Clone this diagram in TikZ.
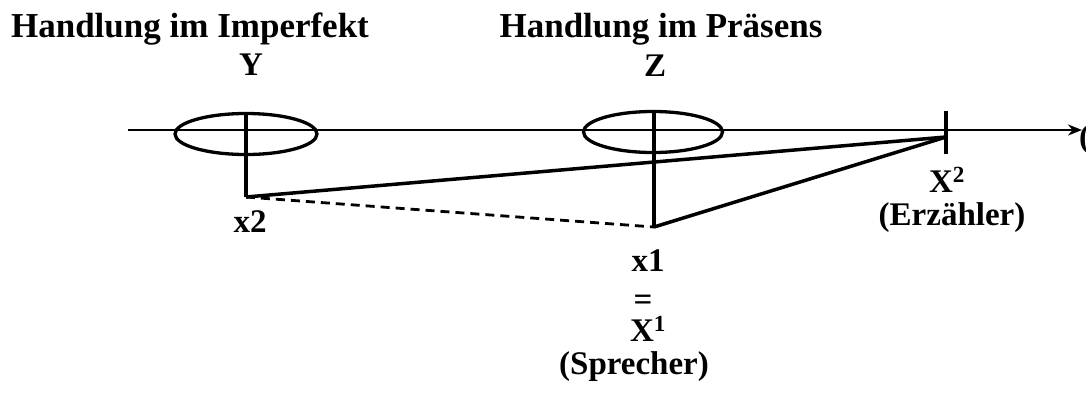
\documentclass[tikz,border=0pt]{standalone}
\usepackage{fontspec}
\setmainfont{Liberation Serif}
\usetikzlibrary{shapes.geometric,arrows.meta}
\begin{document}
\begin{tikzpicture}[x=1pt,y=-1pt,
  lbl/.style={inner sep=0pt,font=\fontsize{33}{38}\selectfont\bfseries},
  head/.style={inner sep=0pt,font=\fontsize{35}{40}\selectfont\bfseries},
  ell/.style={draw,ellipse,line width=3.3pt,inner sep=0pt,minimum width=#1,minimum height=41pt},
  thick line/.style={line width=3.5pt},
  axisline/.style={line width=2.8pt,-{Stealth[length=14pt,width=11pt]}}]
\useasboundingbox (0,0) rectangle (1086,394);
\clip (0,0) rectangle (1086,394);
% headings
\node[head,anchor=base] (h1) at (190,37) {Handlung im Imperfekt};
\node[head,anchor=base] (h2) at (661,37) {Handlung im Präsens};
\node[lbl,anchor=base] (Y) at (251,75) {Y};
\node[lbl,anchor=base] (Z) at (655,76) {Z};
% axis
\coordinate (a0) at (128,130);
\coordinate (a1) at (1082,130);
\draw[axisline] (a0) -- (a1);
\node[lbl,anchor=west] (t) at (1079,140) {(};
% ellipses
\node[ell=142pt] (e1) at (246,134) {};
\node[ell=139pt] (e2) at (653,132) {};
% points
\coordinate (ytop) at (246,113);
\coordinate (x2c) at (246,197);
\coordinate (ztop) at (654,112);
\coordinate (x1c) at (654,227);
\coordinate (X2c) at (946,137);
\coordinate (tt) at (946,111);
\coordinate (tb) at (946,154);
\draw[thick line] (ytop) -- (x2c);
\draw[thick line] (ztop) -- (x1c);
\draw[thick line] (tt) -- (tb);
\draw[thick line,line join=round] (x2c) -- (X2c);
\draw[thick line,line join=round] (x1c) -- (X2c);
\draw[line width=2.8pt,dash pattern=on 9pt off 6pt] (x2c) -- (x1c);
% labels
\node[lbl,anchor=base] (x2) at (250,232) {x2};
\node[lbl,anchor=base] (X2) at (947,192) {X$^{\mathbf 2}$};
\node[lbl,anchor=base] (erz) at (952,225) {(Erzähler)};
\node[lbl,anchor=base] (x1) at (648,271) {x1};
\node[lbl,anchor=base,text height=10pt,text depth=0pt] (eq) at (643,310) {=};
\node[lbl,anchor=base] (X1) at (648,341) {X$^{\mathbf 1}$};
\node[lbl,anchor=base] (spr) at (634,374) {(Sprecher)};
\end{tikzpicture}
\end{document}
